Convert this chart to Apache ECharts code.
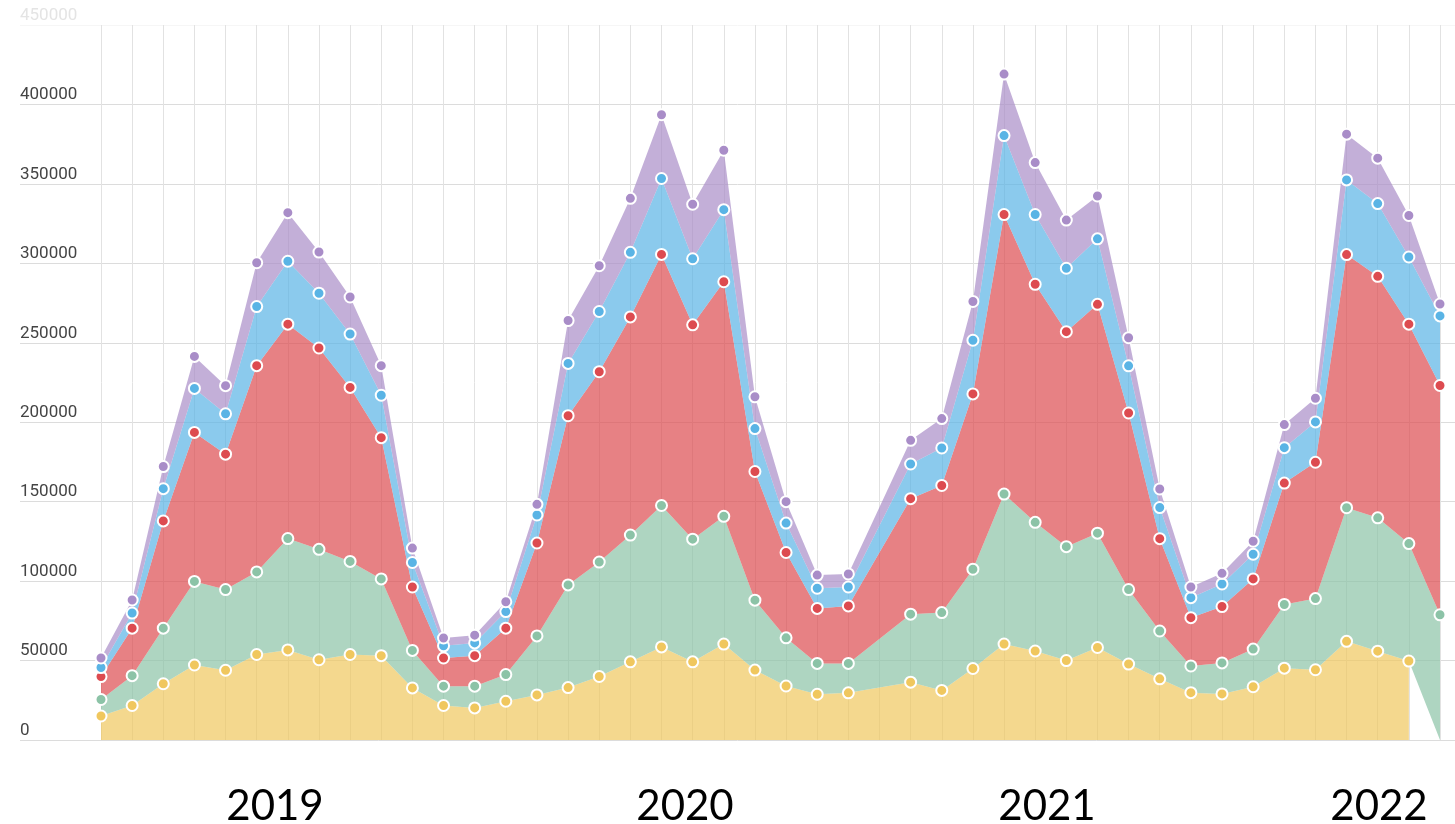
<!DOCTYPE html>
<html>
<head>
<meta charset="utf-8">
<title>stacked area</title>
<script src="https://cdn.jsdelivr.net/npm/echarts@6/dist/echarts.min.js"></script>
<style>
  html, body { margin: 0; padding: 0; background: #fff; }
  #main { width: 1455px; height: 824px; }
</style>
</head>
<body>
<div id="main"></div>
<script>
// 44 periods along x (hidden), period 26 has no data
var categories = ['1','2','3','4','5','6','7','8','9','10','11','12','13','14','15','16','17','18','19','20','21','22',
                  '23','24','25','26','27','28','29','30','31','32','33','34','35','36','37','38','39','40','41','42','43','44'];

// values per layer (stacked from bottom to top)
var yellowData = [15100, 21700, 35400, 47200, 43900, 53800, 56700, 50500, 53800, 53100, 32800, 21700, 20200, 24400, 28400,
                  33000, 40000, 49200, 58600, 49200, 60400, 44000, 34000, 28800, 29700, null, 36400, 31200, 45000, 60400,
                  56000, 50000, 58200, 47800, 38500, 29800, 29000, 33500, 45200, 44200, 62100, 55900, 49700, null];
var greenData  = [10400, 18800, 35000, 52600, 50800, 52000, 70100, 69500, 58600, 48300, 23600, 12200, 13700, 16800, 37100,
                  64600, 72000, 79800, 89000, 77200, 80400, 44000, 30300, 19400, 18500, null, 42800, 49000, 62500, 94400,
                  81000, 71700, 72000, 46900, 30100, 16800, 19500, 23700, 40100, 44800, 84100, 83900, 73900, 78800];
var redData    = [14400, 29900, 67500, 93800, 85200, 129800, 134900, 126700, 109500, 88900, 39900, 17700, 19200, 29200, 58500,
                  106500, 119800, 137300, 158000, 134900, 147600, 81000, 53700, 34600, 36200, null, 72700, 80000, 110300, 175900,
                  149800, 135300, 144000, 111100, 58100, 30400, 35500, 44200, 76400, 85800, 159300, 152000, 138100, 144300];
var blueData   = [5700, 9500, 20300, 27700, 25400, 37200, 39600, 34500, 33600, 26700, 15400, 7700, 8000, 10400, 17600,
                  32900, 37900, 40600, 47800, 41600, 45400, 27000, 18500, 12700, 11900, null, 21800, 23600, 33800, 49700,
                  43900, 39900, 41200, 29700, 19600, 12600, 14200, 15500, 22300, 25400, 47000, 45800, 42300, 43800];
var purpleData = [6000, 8200, 13900, 20100, 17700, 27600, 30600, 25900, 23300, 18600, 9100, 4900, 4900, 6200, 6700,
                  27000, 28800, 34000, 40100, 34300, 37400, 20000, 13500, 8300, 8200, null, 14900, 18500, 24400, 38700,
                  32700, 30300, 27000, 17700, 11700, 6700, 6700, 8200, 14500, 14900, 28800, 28600, 26100, 7500];

var yearLabels = ['2019', '2020', '2021', '2022'];
var yearX = [275, 685, 1047, 1379];

var chart = echarts.init(document.getElementById('main'));

// pair each value with its category index, leaving out the empty ones
function pairs(values) {
  var out = [];
  for (var i = 0; i < values.length; i++) {
    if (values[i] != null) out.push([i, values[i]]);
  }
  return out;
}

function layer(name, data, color) {
  return {
    name: name,
    type: 'line',
    stack: 'total',
    data: pairs(data),
    showAllSymbol: true,
    symbol: 'circle',
    symbolSize: 11,
    lineStyle: { width: 0, opacity: 0 },
    areaStyle: { color: color, opacity: 0.7 },
    itemStyle: { color: color, borderColor: '#fff', borderWidth: 2, opacity: 1 },
    xAxisIndex: 0,
    yAxisIndex: 0
  };
}

var splitColors = ['#dcdcdc', '#dcdcdc', '#dcdcdc', '#dcdcdc', '#dcdcdc', '#dcdcdc', '#dcdcdc', '#dcdcdc', '#dcdcdc', '#f6f6f6'];

var option = {
  animation: false,
  grid: [
    { left: 101, right: 15, top: 25, bottom: 84 },
    { left: 20, right: 0, top: 25, bottom: 84 }
  ],
  xAxis: [
    {
      type: 'category',
      gridIndex: 0,
      data: categories,
      boundaryGap: false,
      axisLine: { show: false },
      axisTick: { show: false },
      axisLabel: { show: false },
      splitLine: { show: true, interval: 0, lineStyle: { color: '#e2e2e2', width: 1 } }
    },
    { type: 'value', gridIndex: 1, show: false, min: 0, max: 1 }
  ],
  yAxis: [
    { type: 'value', gridIndex: 0, min: 0, max: 450000, interval: 50000, show: false },
    {
      type: 'value',
      gridIndex: 1,
      min: 0,
      max: 450000,
      interval: 50000,
      axisLine: { show: false },
      axisTick: { show: false },
      axisLabel: {
        inside: true,
        margin: 0,
        align: 'left',
        verticalAlign: 'bottom',
        padding: [0, 0, 1, 0],
        fontFamily: 'Roboto, sans-serif',
        fontSize: 17,
        formatter: function (value) { return String(value); },
        color: function (value) {
          return value == 450000 ? '#e4e4e4' : '#444';
        }
      },
      splitLine: { show: true, lineStyle: { color: splitColors, width: 1 } }
    }
  ],
  series: [
    layer('yellow', yellowData, '#f0c75e'),
    layer('green', greenData, '#8cc3a7'),
    layer('red', redData, '#dd4b50'),
    layer('blue', blueData, '#5ab4e5'),
    layer('purple', purpleData, '#a98dc8')
  ],
  graphic: yearLabels.map(function (txt, i) {
    return {
      type: 'text',
      x: yearX[i],
      y: 806,
      style: {
        text: txt,
        fill: '#000',
        font: '42px Lato, sans-serif',
        textAlign: 'center',
        textVerticalAlign: 'middle'
      }
    };
  })
};

chart.setOption(option);
</script>
</body>
</html>
